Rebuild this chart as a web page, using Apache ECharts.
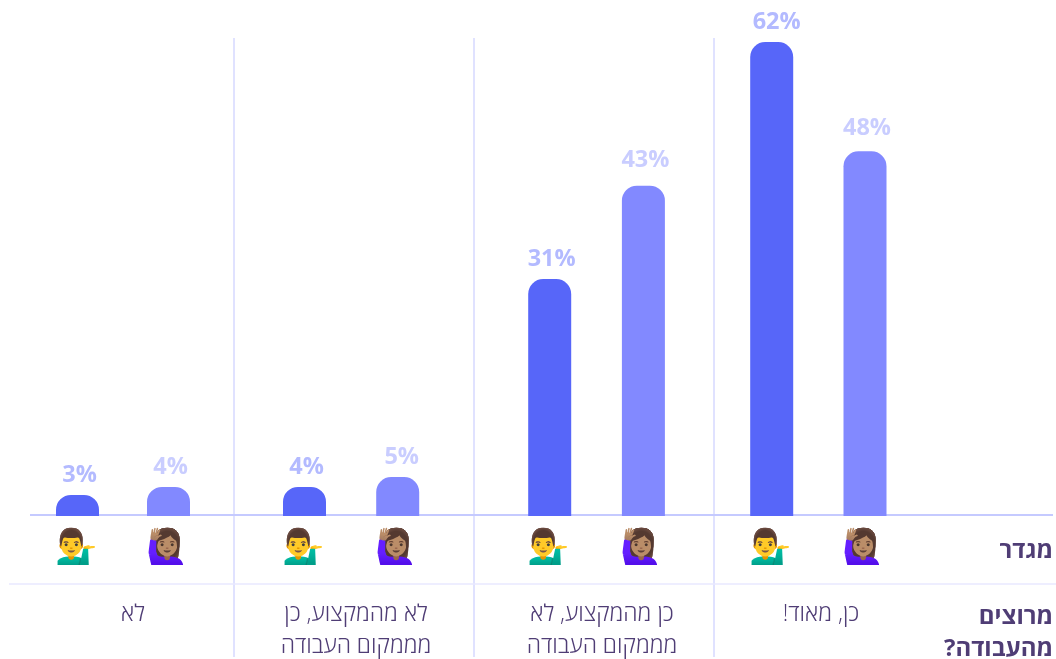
<!DOCTYPE html>
<html lang="he">
<head>
    <meta charset="utf-8"/>
    <script src="https://cdn.jsdelivr.net/npm/echarts@6/dist/echarts.min.js"></script>
</head>
<body style="margin: 0; background: #fff">
<div id="container" style="width: 1056px;height:659px;"></div>
<script type="text/javascript">
    // answers, left to right
    var answers = ['לא', 'לא מהמקצוע, כן\nמממקום העבודה', 'כן מהמקצוע, לא\nמממקום העבודה', 'כן, מאוד!'];
    // labels show them rounded
    var men = [2.75, 3.8, 31, 62];
    var women = [3.8, 5.1, 43.2, 47.7];
    var genderTitle = 'מגדר';
    var answerTitle = 'מרוצים\nמהעבודה?';
    var manIcon = '💁‍♂️';
    var womanIcon = '🙋🏽‍♀️';

    // the pairs are not evenly spaced in the original, so x is a pixel axis
    var menX = [77.5, 304.5, 549.7, 771.7];
    var womenX = [168.5, 397.7, 643.4, 865];
    var answerX = [133, 356, 602, 821];
    var dividerX = [234, 474, 714];
    // small label nudges seen in the original
    var menLabelShift = [[2, 0], [2, 0], [2, 0], [5, 0]];
    var womenLabelShift = [[2, 0], [4, 0], [2, -5], [2, -3]];

    var TEXT = '#4f3d75';
    var FONT = '"Open Sans", "Noto Sans", sans-serif';
    var RLM = '\u200F'; // keeps ! and ? on the left of the hebrew

    function barData(values, xs, shifts) {
        return values.map(function (v, i) {
            return {value: [xs[i], v], label: {offset: shifts[i]}};
        });
    }

    function barSeries(name, values, xs, shifts, color, labelColor) {
        return {
            name: name,
            type: 'bar',
            barWidth: 43,
            barGap: '-100%',
            data: barData(values, xs, shifts),
            itemStyle: {color: color, borderRadius: [15, 15, 0, 0]},
            label: {
                show: true,
                position: 'top',
                distance: 8,
                color: labelColor,
                fontFamily: FONT,
                fontWeight: 700,
                fontSize: 23.5,
                formatter: function (p) {
                    return Math.round(p.value[1]) + '%';
                }
            }
        };
    }

    var graphics = [];
    dividerX.forEach(function (x) {
        graphics.push({type: 'line', z: 0, shape: {x1: x, y1: 38, x2: x, y2: 657}, style: {stroke: '#e0e2ff', lineWidth: 2}});
    });
    graphics.push({type: 'line', z: 0, shape: {x1: 9, y1: 584, x2: 1056, y2: 584}, style: {stroke: '#e8e9ff', lineWidth: 1.5}});
    graphics.push({type: 'line', z: 1, shape: {x1: 30, y1: 515, x2: 1053, y2: 515}, style: {stroke: '#c5caff', lineWidth: 2}});

    function addText(x, y, text, align, size, weight) {
        graphics.push({
            type: 'text', x: x, y: y,
            style: {
                text: text.split('\n').map(function (l) { return l + RLM; }).join('\n'),
                align: align, verticalAlign: 'middle', fill: TEXT,
                fontFamily: FONT, fontSize: size, fontWeight: weight, lineHeight: 32
            }
        });
    }

    answers.forEach(function (a, i) {
        addText(answerX[i], a.indexOf('\n') > 0 ? 630 : 614, a, 'center', 23, 300);
        addText(menX[i] - 2, 548, manIcon, 'center', 34, 400);
        addText(womenX[i] - 2, 548, womanIcon, 'center', 34, 400);
    });
    addText(1053, 551, genderTitle, 'right', 24, 700);
    addText(1053, 633, answerTitle, 'right', 24, 700);

    var myChart = echarts.init(document.getElementById('container'));

    var option = {
        animation: false,
        grid: {left: 30, right: 3, top: 42, bottom: 143},
        xAxis: {
            type: 'value', min: 30, max: 1053, show: false
        },
        yAxis: {type: 'value', min: 0, max: 62, show: false},
        graphic: graphics,
        series: [
            barSeries('גברים', men, menX, menLabelShift, '#5766f9', '#b3baff'),
            barSeries('נשים', women, womenX, womenLabelShift, '#8289ff', '#c9cdff')
        ]
    };

    myChart.setOption(option);
</script>
</body>
</html>
